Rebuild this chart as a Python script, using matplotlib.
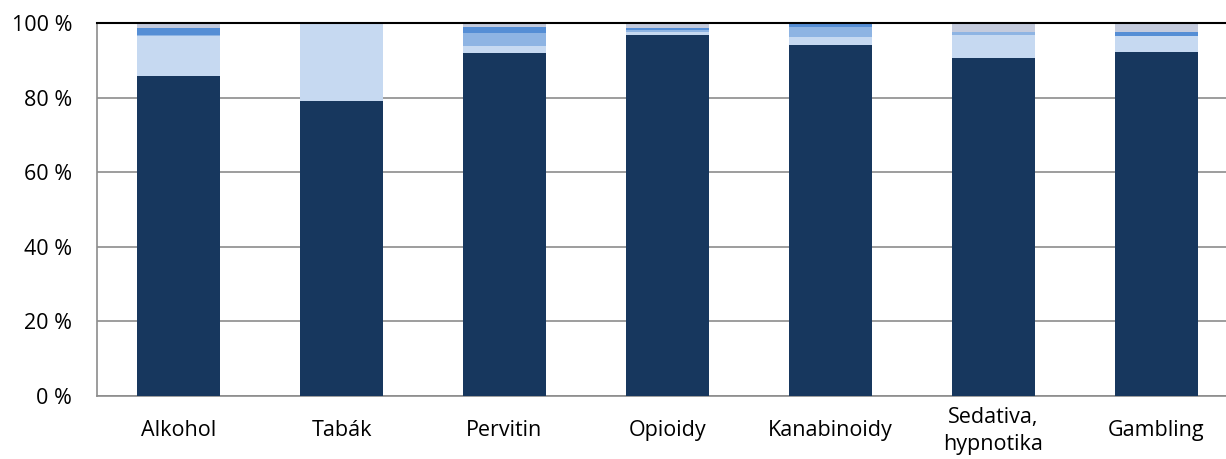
import numpy as np
import matplotlib.pyplot as plt

plt.rcParams['font.family'] = ['Open Sans', 'DejaVu Sans']

categories = ["Alkohol", "Tabák", "Pervitin", "Opioidy", "Kanabinoidy",
              "Sedativa,\nhypnotika", "Gambling"]

# stacked shares in % (bottom to top)
s1 = [85.8, 79.1, 92.0, 96.9, 94.1, 90.5, 92.1]
s2 = [10.7, 20.9, 1.8, 0.7, 2.1, 6.3, 4.5]
s3 = [0.3, 0.0, 3.6, 0.6, 2.6, 0.7, 0.0]
s4 = [1.8, 0.0, 1.6, 0.5, 0.9, 0.0, 0.9]
s5 = [1.4, 0.0, 1.0, 1.3, 0.3, 2.5, 2.5]

series = [s1, s2, s3, s4, s5]
colors = ["#17375e", "#c6d9f1", "#8eb4e3", "#558ed5", "#c4cbdd"]

fig = plt.figure(figsize=(12.26, 4.59), dpi=100)
ax = fig.add_axes([97 / 1226, 1 - 396 / 459, 1141 / 1226, 373 / 459])

x = np.arange(len(categories))
bottom = np.zeros(len(categories))
for vals, c in zip(series, colors):
    ax.bar(x, vals, width=0.515, bottom=bottom, color=c, zorder=3)
    bottom += np.array(vals)

ax.set_xlim(-0.5, 6.5)
ax.set_ylim(0, 100)
ax.set_yticks(np.arange(0, 101, 20))
ax.set_yticklabels([f"{v} %" for v in range(0, 101, 20)], fontsize=15.5)
ax.set_xticks(x)
ax.set_xticklabels(categories, fontsize=15.5, linespacing=1.35, va='center')
ax.tick_params(axis='both', length=0)
ax.tick_params(axis='x', pad=25)
ax.tick_params(axis='y', pad=18)

ax.grid(axis='y', color='#8c8c8c', linewidth=1.2, zorder=0)
ax.spines['right'].set_visible(False)
ax.spines['left'].set_color('#8c8c8c')
ax.spines['left'].set_linewidth(1.2)
ax.spines['bottom'].set_color('#8c8c8c')
ax.spines['bottom'].set_linewidth(1.2)
ax.spines['top'].set_color('#000000')
ax.spines['top'].set_linewidth(1.5)
ax.spines['top'].set_zorder(4)

fig.savefig("out.png", dpi=100)
